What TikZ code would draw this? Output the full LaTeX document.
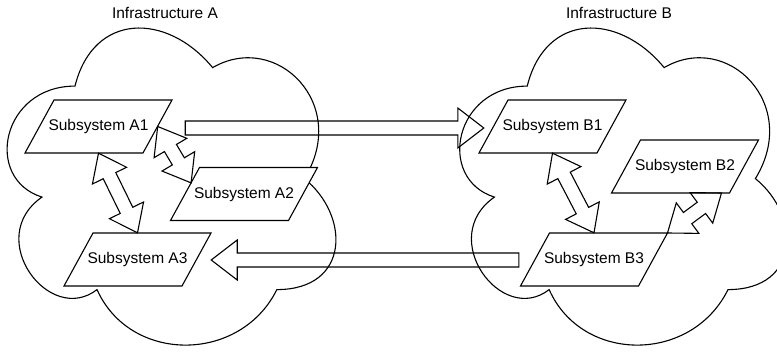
\documentclass[tikz,border=0pt]{standalone}
\usepackage{fontspec}
\setmainfont{Liberation Sans}
\usetikzlibrary{calc}
\tikzset{
  parashape/.style={draw, fill=white, line width=1.1pt, line join=miter},
  paratext/.style={rectangle, minimum width=118pt, minimum height=53pt, inner sep=0pt,
    font=\fontsize{15.5}{18}\selectfont},
  ttl/.style={font=\fontsize{15.5}{18}\selectfont, inner sep=0pt},
  cloudline/.style={draw, line width=1.1pt},
  flex/.style={draw, line width=1.1pt, line join=miter},
}
% parallelogram node: name, (centre), text
\newcommand\para[3]{%
  \coordinate (#1-tl) at ($#2+(-44.5,-26.5)$);
  \coordinate (#1-tr) at ($#2+(73.5,-26.5)$);
  \coordinate (#1-br) at ($#2+(44.5,26.5)$);
  \coordinate (#1-bl) at ($#2+(-73.5,26.5)$);
  \draw[parashape] (#1-tl) -- (#1-tr) -- (#1-br) -- (#1-bl) -- cycle;
  \node[paratext] (#1) at #2 {#3};}
% single block arrow, tip at #2
\newcommand\flexsingle[2]{%
  \coordinate (fa) at #1; \coordinate (fb) at #2;
  \coordinate (fu) at ($(fb)!26pt!(fa)$);
  \draw[flex] ($(fa)!7pt!90:(fb)$) -- ($(fu)!7pt!-90:(fa)$) -- ($(fu)!20pt!-90:(fa)$)
    -- (fb) -- ($(fu)!20pt!90:(fa)$) -- ($(fu)!7pt!90:(fa)$) -- ($(fa)!7pt!-90:(fb)$) -- cycle;}
% double block arrow
\newcommand\flexdouble[2]{%
  \coordinate (fa) at #1; \coordinate (fb) at #2;
  \coordinate (fu) at ($(fa)!25pt!(fb)$); \coordinate (fv) at ($(fb)!25pt!(fa)$);
  \draw[flex] (fa) -- ($(fu)!19pt!90:(fb)$) -- ($(fu)!7pt!90:(fb)$) -- ($(fv)!7pt!-90:(fa)$)
    -- ($(fv)!19pt!-90:(fa)$) -- (fb) -- ($(fv)!19pt!90:(fa)$) -- ($(fv)!7pt!90:(fa)$)
    -- ($(fu)!7pt!-90:(fb)$) -- ($(fu)!19pt!-90:(fb)$) -- cycle;}
\newcommand\cloudpath[4]{%
  \begin{scope}[shift={(#1,#2)}, xscale=#3, yscale=#4]
    \draw[cloudline] (0.25,0.25) .. controls (0.05,0.25) and (0,0.5) .. (0.16,0.55)
      .. controls (0,0.66) and (0.18,0.9) .. (0.31,0.8)
      .. controls (0.4,1) and (0.7,1) .. (0.8,0.8)
      .. controls (1,0.8) and (1,0.6) .. (0.875,0.5)
      .. controls (1,0.3) and (0.8,0.1) .. (0.625,0.2)
      .. controls (0.5,0.05) and (0.3,0.05) .. (0.25,0.25) -- cycle;
  \end{scope}}
\begin{document}
\begin{tikzpicture}[x=1pt, y=-1pt]
  \useasboundingbox (0,0) rectangle (777,352);
  \clip (0,0) rectangle (777,352);
  \fill[white] (0,0) rectangle (777,352);
  % clouds
  \cloudpath{-16.75}{-6.4}{367}{370}
  \cloudpath{436}{-6.4}{365}{370}
  \node[ttl] (tA) at (165,12.5) {Infrastructure A};
  \node[ttl] (tB) at (619,12.5) {Infrastructure B};
  % subsystems
  \para{A1}{(98.5,126.5)}{Subsystem A1}
  \para{A2}{(244,194)}{Subsystem A2}
  \para{A3}{(137.5,259.5)}{Subsystem A3}
  \para{B1}{(552.5,126.5)}{Subsystem B1}
  \para{B2}{(685,166.5)}{Subsystem B2}
  \para{B3}{(594,259.5)}{Subsystem B3}
  % arrows
  \flexsingle{([xshift=27.5pt,yshift=-1.5pt]A1.east)}{([xshift=-9.5pt,yshift=-1.5pt]B1.west)}
  \flexsingle{([xshift=-16pt,yshift=-0.5pt]B3.west)}{([xshift=14.5pt,yshift=-0.5pt]A3.east)}
  \flexdouble{(A1.south)}{(A3.north)}
  \flexdouble{(A1.east)}{($(A2-tl)!0.29!(A2-bl)$)}
  \flexdouble{(B1.south)}{(B3.north)}
  \flexdouble{(B3-tr)}{([xshift=-8pt]B2-br)}
\end{tikzpicture}
\end{document}
